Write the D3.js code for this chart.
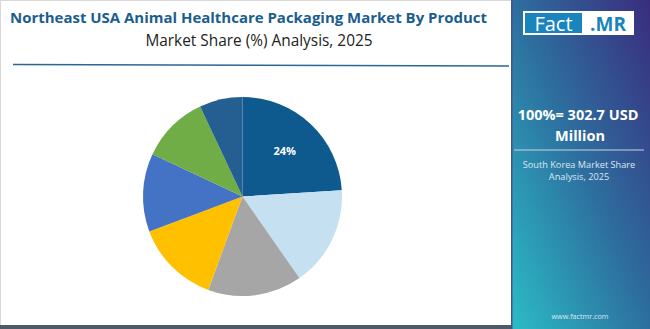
<!DOCTYPE html>
<html>
<head>
<meta charset="utf-8">
<script src="https://cdn.jsdelivr.net/npm/d3@7"></script>
<style>
  html, body { margin: 0; padding: 0; background: #fff; }
  svg { display: block; }
</style>
</head>
<body>
<script>
// Product segments and their shares (%), clockwise from 12 o'clock
const categories = ["Bottles", "Vials", "Blister Packs", "Pouches", "Syringes", "Ampoules", "Others"];
const shares = [24, 16.3, 15.3, 13.7, 12.7, 11, 7];
const colors = ["#0e5a8f", "#c4e0f1", "#a6a6a6", "#ffc000", "#4472c4", "#70ad47", "#255e91"];
const labelled = [true, false, false, false, false, false, false];

const W = 650, H = 329;
const svg = d3.select("body").append("svg").attr("width", W).attr("height", H);

// Page frame
svg.append("rect").attr("x", 0.5).attr("y", 0.5).attr("width", W - 1).attr("height", H - 1)
  .attr("fill", "#fff").attr("stroke", "#d9d9d9");

// Title block
svg.append("text").attr("x", 248.5).attr("y", 23).attr("text-anchor", "middle")
  .attr("font-family", "'Open Sans', sans-serif").attr("font-weight", 700).attr("font-size", 15)
  .attr("textLength", 477).attr("lengthAdjust", "spacingAndGlyphs")
  .attr("fill", "#1b5e8e").text("Northeast USA Animal Healthcare Packaging Market By Product");
svg.append("text").attr("x", 259).attr("y", 46).attr("text-anchor", "middle")
  .attr("font-family", "'Open Sans', sans-serif").attr("font-size", 15.4)
  .attr("fill", "#222").text("Market Share (%) Analysis, 2025");
svg.append("line").attr("x1", 13).attr("x2", 509).attr("y1", 64.5).attr("y2", 66)
  .attr("stroke", "#2a6794").attr("stroke-width", 1.6);

// Bottom rule
svg.append("rect").attr("x", 0).attr("y", 325).attr("width", 512).attr("height", 4).attr("fill", "#4b5b69");

// Pie
const cx = 242.5, cy = 196.5, r = 99.5;
const pie = d3.pie().sort(null).value(d => d.v);
const arcs = pie(categories.map((c, i) => ({ c, v: shares[i], col: colors[i], lab: labelled[i] })));
const arc = d3.arc().innerRadius(0).outerRadius(r);
const g = svg.append("g").attr("transform", `translate(${cx},${cy})`);
g.selectAll("path").data(arcs).join("path")
  .attr("d", arc).attr("fill", d => d.data.col);
const labelArc = d3.arc().innerRadius(r * 0.62).outerRadius(r * 0.62);
g.selectAll("text").data(arcs.filter(d => d.data.lab)).join("text")
  .attr("transform", d => `translate(${labelArc.centroid(d)})`)
  .attr("text-anchor", "middle").attr("dy", "0.35em")
  .attr("font-family", "'Open Sans', sans-serif").attr("font-weight", 700).attr("font-size", 11)
  .attr("fill", "#fff").text(d => d3.format(".0f")(d.data.v) + "%");

// Side panel with diagonal gradient
const defs = svg.append("defs");
const grad = defs.append("linearGradient").attr("id", "side").attr("x1", "0").attr("y1", "1").attr("x2", "1").attr("y2", "0");
grad.append("stop").attr("offset", "0").attr("stop-color", "#2bbcc6");
grad.append("stop").attr("offset", "0.5").attr("stop-color", "#2d6f9f");
grad.append("stop").attr("offset", "1").attr("stop-color", "#3a2c7d");
svg.append("rect").attr("x", 512).attr("y", 0).attr("width", 138).attr("height", H).attr("fill", "url(#side)");
svg.append("rect").attr("x", 511).attr("y", 0).attr("width", 1.5).attr("height", H).attr("fill", "#4a4f92");

// Logo
svg.append("rect").attr("x", 523).attr("y", 11).attr("width", 111).attr("height", 24).attr("fill", "#fff");
svg.append("rect").attr("x", 525).attr("y", 13).attr("width", 57).attr("height", 20).attr("fill", "#1a84bd");
svg.append("text").attr("x", 553.5).attr("y", 30.5).attr("text-anchor", "middle")
  .attr("font-family", "'Open Sans', sans-serif").attr("font-size", 20).attr("fill", "#fff").text("Fact");
svg.append("text").attr("x", 608).attr("y", 30.5).attr("text-anchor", "middle")
  .attr("font-family", "'Open Sans', sans-serif").attr("font-weight", 700).attr("font-size", 19).attr("fill", "#1a84bd").text(".MR");

// Panel text
const px = 580;
svg.append("text").attr("x", 578).attr("y", 120).attr("text-anchor", "middle")
  .attr("font-family", "'Open Sans', sans-serif").attr("font-weight", 700).attr("font-size", 14.5)
  .attr("fill", "#fff").text("100%= 302.7 USD");
svg.append("text").attr("x", px).attr("y", 141).attr("text-anchor", "middle")
  .attr("font-family", "'Open Sans', sans-serif").attr("font-weight", 700).attr("font-size", 14.5)
  .attr("fill", "#fff").text("Million");
svg.append("line").attr("x1", 514).attr("x2", 644).attr("y1", 150).attr("y2", 150)
  .attr("stroke", "#c9d3ea").attr("stroke-width", 1.2);
svg.append("text").attr("x", 579).attr("y", 168).attr("text-anchor", "middle")
  .attr("font-family", "'Open Sans', sans-serif").attr("font-size", 9.2)
  .attr("fill", "#dfe7f3").text("South Korea Market Share");
svg.append("text").attr("x", 579).attr("y", 180).attr("text-anchor", "middle")
  .attr("font-family", "'Open Sans', sans-serif").attr("font-size", 9.2)
  .attr("fill", "#dfe7f3").text("Analysis, 2025");
svg.append("text").attr("x", px).attr("y", 319).attr("text-anchor", "middle")
  .attr("font-family", "'Open Sans', sans-serif").attr("font-size", 7.2)
  .attr("fill", "#dfe7f3").text("www.factmr.com");
</script>
</body>
</html>
